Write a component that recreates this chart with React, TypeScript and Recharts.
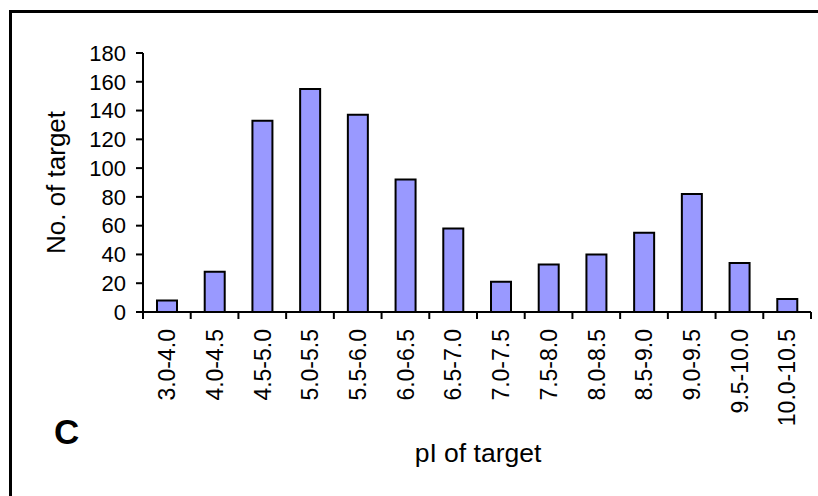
import { BarChart, Bar, XAxis, YAxis, Label } from 'recharts'

const categories = [
  '3.0-4.0', '4.0-4.5', '4.5-5.0', '5.0-5.5', '5.5-6.0', '6.0-6.5', '6.5-7.0',
  '7.0-7.5', '7.5-8.0', '8.0-8.5', '8.5-9.0', '9.0-9.5', '9.5-10.0', '10.0-10.5',
]
const targetCounts = [8, 28, 133, 155, 137, 92, 58, 21, 33, 40, 55, 82, 34, 9]
const yTicks = [0, 20, 40, 60, 80, 100, 120, 140, 160, 180]

const data = categories.map((range, i) => ({ range, count: targetCounts[i] }))

const W = 818
const H = 496
const margin = { top: 53, right: 7, bottom: 74, left: 0 }
const yAxisWidth = 143
const xAxisHeight = 110
const plotWidth = W - margin.left - margin.right - yAxisWidth
const band = plotWidth / categories.length
const font = '"Liberation Sans", Arial, sans-serif'

function RangeTick(props: any) {
  const { x, y, payload, index } = props
  const axisY = y - 17
  const left = x - band / 2
  const right = x + band / 2
  return (
    <g>
      <line x1={left} y1={axisY} x2={left} y2={axisY + 7} stroke="#000" strokeWidth={2} />
      {index === categories.length - 1 && (
        <line x1={right} y1={axisY} x2={right} y2={axisY + 7} stroke="#000" strokeWidth={2} />
      )}
      <text
        x={x}
        y={y}
        dy="0.36em"
        textAnchor="end"
        transform={`rotate(-90, ${x}, ${y})`}
        fontSize={23}
        fontFamily={font}
        fill="#000"
      >
        {payload.value}
      </text>
    </g>
  )
}

export default function App() {
  return (
    <div style={{ position: 'absolute', left: 0, top: 0, width: W, height: H, overflow: 'hidden', background: '#fff' }}>
      <div
        style={{
          position: 'absolute',
          left: 9,
          top: 10,
          width: W + 20,
          height: H + 20,
          borderLeft: '3px solid #000',
          borderTop: '3px solid #000',
        }}
      />
      <div
        style={{
          position: 'absolute',
          left: 54,
          top: 412,
          fontFamily: font,
          fontWeight: 'bold',
          fontSize: 35,
          lineHeight: '40px',
        }}
      >
        C
      </div>
      <div style={{ position: 'absolute', left: 0, top: 0 }}>
        <BarChart width={W} height={H} data={data} margin={margin} barSize={20}>
          <XAxis
            dataKey="range"
            interval={0}
            height={xAxisHeight}
            tickSize={7}
            tickMargin={10}
            tickLine={false}
            axisLine={{ stroke: '#000', strokeWidth: 2 }}
            tick={<RangeTick />}
          >
            <Label
              content={({ viewBox }: any) => (
                <text
                  x={viewBox.x + viewBox.width / 2 + 1}
                  y={462}
                  textAnchor="middle"
                  fontSize={26.5}
                  fontFamily={font}
                  fill="#000"
                >
                  pI of target
                </text>
              )}
            />
          </XAxis>
          <YAxis
            width={yAxisWidth}
            domain={[0, 180]}
            ticks={yTicks}
            interval={0}
            tickSize={7}
            tickMargin={10}
            axisLine={{ stroke: '#000', strokeWidth: 2 }}
            tickLine={{ stroke: '#000', strokeWidth: 2 }}
            tick={{ fill: '#000', fontSize: 22, fontFamily: font }}
          >
            <Label
              content={({ viewBox }: any) => {
                const cx = 65
                const cy = viewBox.y + viewBox.height / 2
                return (
                  <text
                    x={cx}
                    y={cy}
                    textAnchor="middle"
                    transform={`rotate(-90, ${cx}, ${cy})`}
                    fontSize={26}
                    fontFamily={font}
                    fill="#000"
                  >
                    No. of target
                  </text>
                )
              }}
            />
          </YAxis>
          <Bar dataKey="count" fill="#9999FF" stroke="#000" strokeWidth={2} isAnimationActive={false} />
        </BarChart>
      </div>
    </div>
  )
}
